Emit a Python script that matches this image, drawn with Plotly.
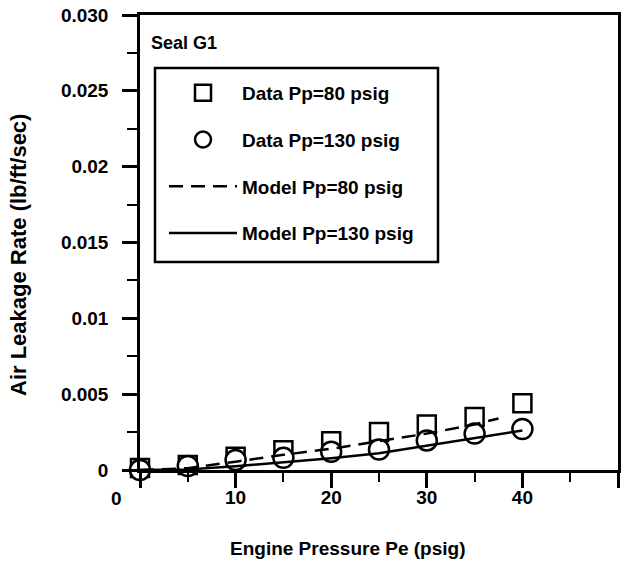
import plotly.graph_objects as go

# ---- data ----
pe_data = [0, 5, 10, 15, 20, 25, 30, 35, 40]
data_pp80 = [0.00013, 0.00033, 0.00088, 0.0013, 0.0019, 0.0025, 0.0030, 0.0035, 0.0044]
data_pp130 = [0.0, 0.00026, 0.00066, 0.0008, 0.0012, 0.00135, 0.00195, 0.0024, 0.0027]

pe_model80 = [0, 5, 10, 15, 20, 25, 30, 35, 37.5]
model_pp80 = [0.0, 0.00012, 0.00055, 0.001, 0.0014, 0.0019, 0.0024, 0.003, 0.0034]
pe_model130 = [0, 5, 10, 15, 20, 25, 30, 35, 40]
model_pp130 = [0.0, 0.00004, 0.00025, 0.0005, 0.00078, 0.0011, 0.0016, 0.0021, 0.0026]

x_tickvals = [0, 10, 20, 30, 40, 50]
x_ticktext = ["", "10", "20", "30", "40", "50"]
y_tickvals = [0, 0.005, 0.01, 0.015, 0.02, 0.025, 0.030]
y_ticktext = ["0", "0.005", "0.01", "0.015", "0.02", "0.025", "0.030"]
y_minor = [0.0025, 0.0075, 0.0125, 0.0175, 0.0225, 0.0275]
x_minor = [5, 15, 25, 35, 45]

FONT = "Liberation Sans, Arial, Helvetica, sans-serif"
BOLD = dict(family=FONT, size=19, color="black", weight="bold")

# plot area in pixels
W, H = 626, 561
L, R, T, B = 140, 8, 15, 91
pw, ph = W - L - R, H - T - B


def px(xp):
    return (xp - L) / pw


def py(yp):
    return (H - B - yp) / ph


fig = go.Figure()
fig.add_trace(go.Scatter(
    x=pe_data, y=data_pp80, mode="markers", name="Data Pp=80 psig",
    legendgroup="a", cliponaxis=False,
    marker=dict(symbol="square", size=18, color="white",
                line=dict(color="black", width=2.5))))
fig.add_trace(go.Scatter(
    x=pe_data, y=data_pp130, mode="markers", name="Data Pp=130 psig",
    legendgroup="b", cliponaxis=False,
    marker=dict(symbol="circle", size=20, color="white",
                line=dict(color="black", width=2.5))))
fig.add_trace(go.Scatter(
    x=pe_model80, y=model_pp80, mode="lines", name="Model Pp=80 psig",
    legendgroup="c", cliponaxis=False,
    line=dict(color="black", width=2.5, dash="14px,8px")))
fig.add_trace(go.Scatter(
    x=pe_model130, y=model_pp130, mode="lines", name="Model Pp=130 psig",
    legendgroup="d", cliponaxis=False,
    line=dict(color="black", width=2.5)))

fig.update_layout(
    width=W, height=H,
    margin=dict(l=L, r=R, t=T, b=B, autoexpand=False),
    plot_bgcolor="white", paper_bgcolor="white",
    font=BOLD,
    showlegend=True,
    legend=dict(x=px(164), y=py(74), xanchor="left", yanchor="top",
                bgcolor="rgba(0,0,0,0)", borderwidth=0,
                font=BOLD, tracegroupgap=19, traceorder="grouped",
                itemwidth=68),
    xaxis=dict(range=[0, 50], tickmode="array", tickvals=x_tickvals,
               ticktext=x_ticktext, ticks="outside", ticklen=15,
               tickwidth=2.5, tickcolor="black", showline=True,
               linewidth=2.5, linecolor="black", mirror=True,
               showgrid=False, zeroline=False, automargin=False,
               tickfont=BOLD, ticklabelstandoff=-7,
               minor=dict(tickmode="array", tickvals=x_minor,
                          ticks="outside", ticklen=9, tickwidth=2,
                          tickcolor="black", showgrid=False)),
    yaxis=dict(range=[0, 0.030], tickmode="array", tickvals=y_tickvals,
               ticktext=y_ticktext, ticks="outside", ticklen=15,
               tickwidth=2.5, tickcolor="black", showline=True,
               linewidth=2.5, linecolor="black", mirror=True,
               showgrid=False, zeroline=False, automargin=False,
               tickfont=BOLD, ticklabelstandoff=10,
               minor=dict(tickmode="array", tickvals=y_minor,
                          ticks="outside", ticklen=10, tickwidth=2,
                          tickcolor="black", showgrid=False)),
)

# legend frame
fig.add_shape(type="rect", xref="paper", yref="paper",
              x0=px(155), x1=px(438), y0=py(262), y1=py(68),
              line=dict(color="black", width=2.5))

# annotations: panel label, axis titles, x-axis "0"
fig.add_annotation(text="Seal G1", xref="paper", yref="paper",
                   x=px(149), y=py(43), xanchor="left", yanchor="middle",
                   showarrow=False, font=dict(family=FONT, size=18, color="black", weight="bold"))
fig.add_annotation(text="Engine Pressure Pe (psig)", xref="paper", yref="paper",
                   x=px(347), y=py(548), xanchor="center", yanchor="middle",
                   showarrow=False, font=BOLD)
fig.add_annotation(text="Air Leakage Rate (lb/ft/sec)", xref="paper", yref="paper",
                   x=px(18), y=py(255), xanchor="center", yanchor="middle",
                   textangle=-90, showarrow=False,
                   font=dict(family=FONT, size=22, color="black", weight="bold"))
fig.add_annotation(text="0", xref="paper", yref="paper",
                   x=px(116), y=py(498), xanchor="center", yanchor="middle",
                   showarrow=False, font=BOLD)

fig.write_html("out.html")
